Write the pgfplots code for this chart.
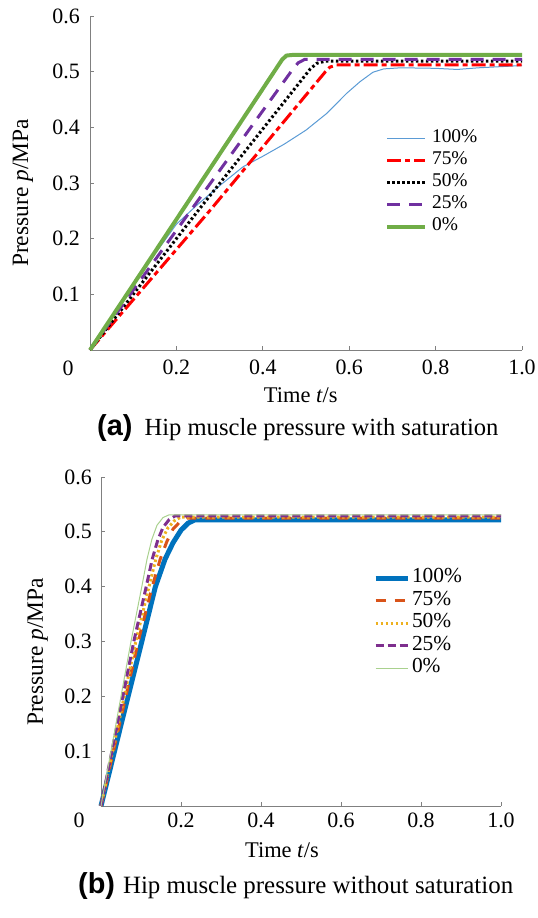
\documentclass[border=0pt]{standalone}
\usepackage{fontspec}
\setmainfont{Liberation Serif}
\newfontfamily\arialfont{Liberation Sans}
\usepackage{pgfplots}
\pgfplotsset{compat=1.18}
\definecolor{tblue}{HTML}{5B9BD5}
\definecolor{tred}{HTML}{FF0000}
\definecolor{tpurple}{HTML}{7030A0}
\definecolor{tgreen}{HTML}{70AD47}
\definecolor{bblue}{HTML}{0072BD}
\definecolor{borange}{HTML}{D95319}
\definecolor{byellow}{HTML}{EDB120}
\definecolor{bpurple}{HTML}{7E2F8E}
\definecolor{bgreen}{HTML}{A9D18E}
\definecolor{axgray}{HTML}{808080}
\pgfplotsset{
  mystyle/.style={
    scale only axis,
    axis x line*=bottom, axis y line*=left,
    axis line style={axgray, line width=1bp},
    tick style={axgray, line width=0.8bp},
    major tick length=4bp,
    tick align=inside,
    xtick pos=bottom, ytick pos=left,
    xmin=0, xmax=1, ymin=0, ymax=0.6,
    xtick={0.2,0.4,0.6,0.8,1.0},
    xticklabels={0.2,0.4,0.6,0.8,1.0},
    ytick={0.1,0.2,0.3,0.4,0.5,0.6},
    yticklabels={0.1,0.2,0.3,0.4,0.5,0.6},
    tick label style={font=\fontsize{22}{22}\selectfont, inner sep=0pt},
    legend cell align=left,
    clip=false,
  }
}
\begin{document}
\begin{tikzpicture}
\path[use as bounding box] (0bp,0bp) rectangle (538bp,-918bp);
% ---------- (a) ----------
\begin{axis}[mystyle,
  at={(90bp,-350bp)}, anchor=south west,
  width=432bp, height=334bp,
  xticklabel style={yshift=-10bp},
  yticklabel style={xshift=-10bp},
  xlabel={Time \textit{t}/s},
  ylabel={Pressure \textit{p}/MPa},
  every axis x label/.style={at={(axis description cs:0.488,-0.1557)}, anchor=base, font=\fontsize{22.5}{22.5}\selectfont},
  every axis y label/.style={at={(axis description cs:-0.1435,0.47)}, anchor=base, rotate=90, font=\fontsize{23.5}{23.5}\selectfont},
  legend image code/.code={\draw[#1] (0bp,0bp) -- (38bp,0bp);},
  legend style={at={(0.683,0.665)}, anchor=north west, draw=none, fill=none,
    inner sep=0pt, outer sep=0pt, row sep=0pt,
    font=\fontsize{19.5}{19.5}\selectfont,
    nodes={inner sep=0pt, text height=15bp, text depth=7bp},
    /tikz/every odd column/.append style={column sep=5bp}},
]
\addplot[tblue, line width=1bp] coordinates {(0,0)(0.05,0.058)(0.1,0.115)(0.15,0.172)(0.2,0.226)(0.25,0.262)(0.3,0.295)(0.354,0.329)(0.4,0.348)(0.45,0.37)(0.5,0.395)(0.548,0.425)(0.594,0.461)(0.625,0.482)(0.655,0.499)(0.68,0.505)(0.72,0.507)(0.8,0.506)(0.85,0.504)(0.9,0.507)(0.95,0.509)(1.0,0.511)};
\addlegendentry{100\%}
\addplot[tred, line width=3bp, dash pattern=on 14bp off 4bp on 5bp off 4bp] coordinates {(0,0)(0.278,0.251)(0.545,0.5)(0.555,0.508)(0.57,0.512)(1,0.512)};
\addlegendentry{75\%}
\addplot[black, line width=3bp, dash pattern=on 2.5bp off 2.5bp] coordinates {(0,0)(0.255,0.255)(0.51,0.505)(0.525,0.515)(0.545,0.519)(1,0.519)};
\addlegendentry{50\%}
\addplot[tpurple, line width=3bp, dash pattern=on 13bp off 9bp] coordinates {(0,0)(0.47,0.505)(0.482,0.516)(0.497,0.522)(1,0.522)};
\addlegendentry{25\%}
\addplot[tgreen, line width=4bp] coordinates {(0,0)(0.445,0.522)(0.455,0.529)(0.468,0.53)(1,0.53)};
\addlegendentry{0\%}
\end{axis}
\node[anchor=base, font=\fontsize{22}{22}\selectfont] at (68bp,-375bp) {0};
\node[anchor=base west, inner sep=0pt] at (97bp,-435bp) {{\fontsize{29}{29}\selectfont\arialfont\bfseries (a)}\hspace{12bp}{\fontsize{24.7}{24.7}\selectfont Hip muscle pressure with saturation}};
% ---------- (b) ----------
\begin{axis}[mystyle,
  at={(101bp,-806bp)}, anchor=south west,
  width=400bp, height=329bp,
  xticklabel style={yshift=-7bp},
  yticklabel style={xshift=-9bp},
  xlabel={Time \textit{t}/s},
  ylabel={Pressure \textit{p}/MPa},
  every axis x label/.style={at={(axis description cs:0.4525,-0.155)}, anchor=base, font=\fontsize{22.5}{22.5}\selectfont},
  every axis y label/.style={at={(axis description cs:-0.145,0.468)}, anchor=base, rotate=90, font=\fontsize{23.5}{23.5}\selectfont},
  legend image code/.code={\draw[#1] (0bp,0bp) -- (32bp,0bp);},
  legend style={at={(0.68,0.726)}, anchor=north west, draw=none, fill=none,
    inner sep=0pt, outer sep=0pt, row sep=0pt,
    font=\fontsize{21.5}{21.5}\selectfont,
    nodes={inner sep=0pt, text height=15.5bp, text depth=7bp},
    /tikz/every odd column/.append style={column sep=2bp}},
]
\addplot[bblue, line width=5bp] coordinates {(0,0)(0.05,0.148)(0.102,0.3)(0.136,0.4)(0.16,0.45)(0.18,0.48)(0.2,0.503)(0.218,0.516)(0.235,0.522)(0.26,0.522)(1,0.522)};
\addlegendentry{100\%}
\addplot[borange, line width=3bp, dash pattern=on 10bp off 9bp] coordinates {(0,0)(0.05,0.161)(0.093,0.3)(0.128,0.4)(0.148,0.45)(0.165,0.483)(0.18,0.505)(0.197,0.518)(0.215,0.525)(0.24,0.525)(1,0.525)};
\addlegendentry{75\%}
\addplot[byellow, line width=3bp, dash pattern=on 2.5bp off 2.5bp] coordinates {(0,0)(0.05,0.172)(0.087,0.3)(0.12,0.4)(0.137,0.45)(0.152,0.485)(0.167,0.507)(0.183,0.52)(0.2,0.527)(0.225,0.527)(1,0.527)};
\addlegendentry{50\%}
\addplot[bpurple, line width=3bp, dash pattern=on 8bp off 4bp] coordinates {(0,0)(0.05,0.183)(0.082,0.3)(0.113,0.4)(0.128,0.45)(0.142,0.485)(0.155,0.508)(0.17,0.522)(0.185,0.529)(0.21,0.529)(1,0.529)};
\addlegendentry{25\%}
\addplot[bgreen, line width=1bp] coordinates {(0,0)(0.04,0.16)(0.075,0.3)(0.102,0.4)(0.115,0.45)(0.127,0.486)(0.14,0.512)(0.155,0.526)(0.17,0.531)(0.195,0.531)(1,0.531)};
\addlegendentry{0\%}
\end{axis}
\node[anchor=base, font=\fontsize{22}{22}\selectfont] at (79bp,-827bp) {0};
\node[anchor=base west, inner sep=0pt] at (78bp,-893bp) {{\fontsize{29}{29}\selectfont\arialfont\bfseries (b)}\hspace{8bp}{\fontsize{25}{25}\selectfont Hip muscle pressure without saturation}};
\end{tikzpicture}
\end{document}
